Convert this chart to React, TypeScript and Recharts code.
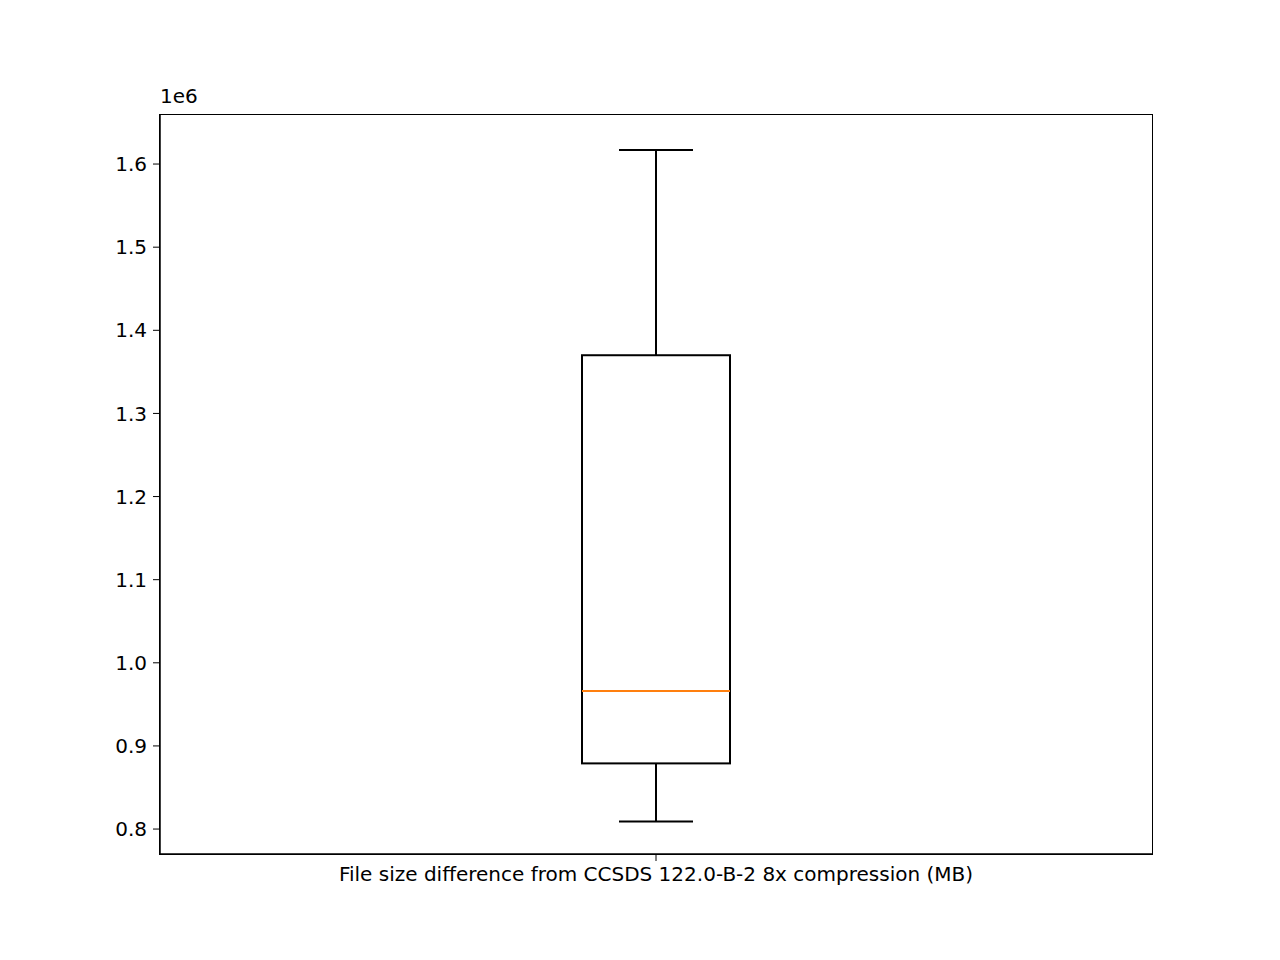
import React from "react"
import { ComposedChart, Bar, XAxis, YAxis } from "recharts"

document.body.style.margin = "0"

const categories = ["File size difference from CCSDS 122.0-B-2 8x compression (MB)"]
const whiskerLow = [0.809]
const quartile1 = [0.879]
const medians = [0.966]
const quartile3 = [1.37]
const whiskerHigh = [1.617]
const yTicks = [0.8, 0.9, 1.0, 1.1, 1.2, 1.3, 1.4, 1.5, 1.6]

const data = categories.map((name, i) => ({
  name,
  box: [quartile1[i], quartile3[i]],
  lo: whiskerLow[i],
  med: medians[i],
  q1: quartile1[i],
  q3: quartile3[i],
  hi: whiskerHigh[i],
}))

const BoxShape = (props: any) => {
  const { x, y, width, height, payload } = props
  const k = height / (payload.q3 - payload.q1)
  const yOf = (v: number) => y + (payload.q3 - v) * k
  const cx = x + width / 2
  const cap = width / 4
  return (
    <g>
      <line x1={cx} x2={cx} y1={yOf(payload.hi)} y2={yOf(payload.q3)} stroke="#000" strokeWidth={2} />
      <line x1={cx} x2={cx} y1={yOf(payload.q1)} y2={yOf(payload.lo)} stroke="#000" strokeWidth={2} />
      <line x1={cx - cap} x2={cx + cap} y1={yOf(payload.hi)} y2={yOf(payload.hi)} stroke="#000" strokeWidth={2} />
      <line x1={cx - cap} x2={cx + cap} y1={yOf(payload.lo)} y2={yOf(payload.lo)} stroke="#000" strokeWidth={2} />
      <rect x={x} y={y} width={width} height={height} fill="none" stroke="#000" strokeWidth={2} />
      <line x1={x} x2={x + width} y1={yOf(payload.med)} y2={yOf(payload.med)} stroke="#ff7f0e" strokeWidth={2} />
    </g>
  )
}

const font = { fontFamily: "DejaVu Sans", fontSize: 20, fill: "#000" }

export default function App() {
  return (
    <div style={{ position: "relative", width: 1280, height: 960, background: "#fff" }}>
      <ComposedChart width={1280} height={960} data={data} margin={{ top: 115, right: 128, bottom: 56, left: 100 }}>
        <XAxis
          dataKey="name"
          height={50}
          tick={font}
          fontSize={20}
          tickSize={7}
          tickMargin={6}
          stroke="#000"
          axisLine={{ stroke: "#000", strokeWidth: 1.5 }}
        />
        <YAxis
          domain={[0.77, 1.659]}
          ticks={yTicks}
          tickFormatter={(v: number) => v.toFixed(1)}
          width={60}
          tick={font}
          fontSize={20}
          tickSize={7}
          tickMargin={6}
          stroke="#000"
          axisLine={{ stroke: "#000", strokeWidth: 1.5 }}
          allowDataOverflow
        />
        <Bar dataKey="box" barSize={148} shape={BoxShape} isAnimationActive={false} />
      </ComposedChart>
      <div style={{ position: "absolute", left: 159, top: 114, width: 992, height: 739, border: "1.5px solid #000", pointerEvents: "none" }} />
      <div style={{ position: "absolute", left: 160, top: 84, fontFamily: "DejaVu Sans", fontSize: 20 }}>1e6</div>
    </div>
  )
}
